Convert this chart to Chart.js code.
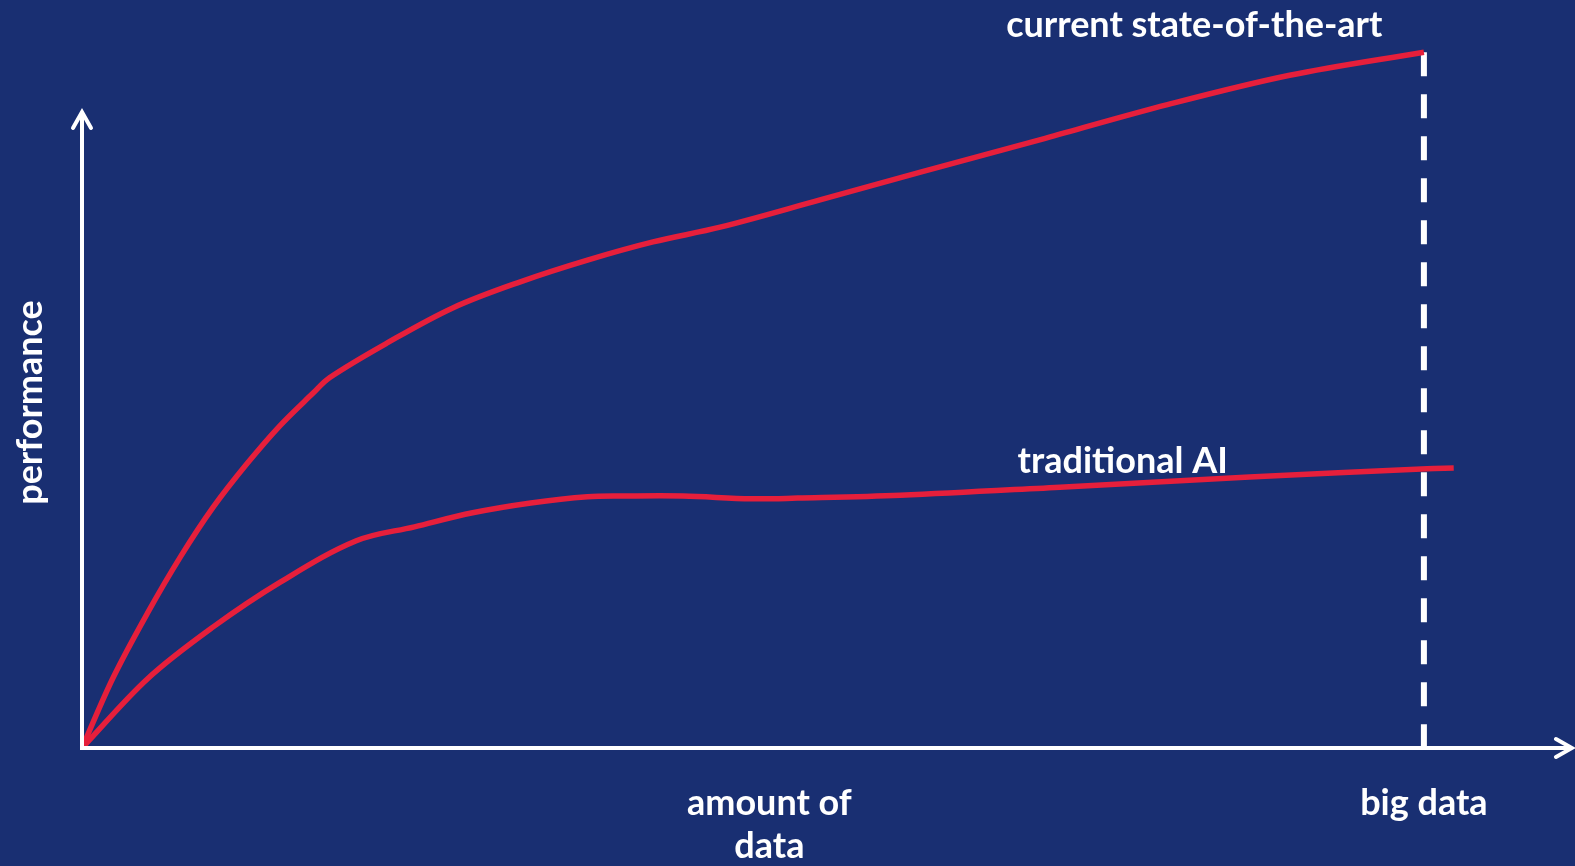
<!DOCTYPE html>
<html>
<head>
<meta charset="utf-8">
<script src="https://cdn.jsdelivr.net/npm/chart.js@4/dist/chart.umd.min.js"></script>
<style>
    html, body { margin: 0; padding: 0; background: #192f72; }
    #wrap { width: 1575px; height: 866px; position: relative; }
</style>
</head>
<body>
<div id="wrap"><canvas id="grafico"></canvas></div>
<script>
// Dados (eixos sem escala: 0..100)
const estadoArteX = [0, 2.1, 4.4, 6.6, 8.8, 11.1, 13.3, 15.5, 16.6, 20.5, 24.9, 29.4, 33.9, 38.3, 42.8, 49.5, 56.3, 64.6, 72.8, 81.0, 90.0];
const estadoArteY = [0, 10.1, 19.3, 27.3, 34.4, 40.7, 46.1, 50.7, 52.9, 57.9, 62.9, 66.6, 69.7, 72.3, 74.4, 78.3, 82.3, 87.1, 91.9, 96.1, 99.4];

const tradicionalX = [0, 4.4, 8.8, 13.3, 18.4, 22.3, 26.2, 30.1, 33.9, 36.4, 40.3, 44.9, 48.0, 54.9, 65.9, 78.3, 90.2, 92.0];
const tradicionalY = [0, 9.9, 17.3, 23.7, 29.6, 31.6, 33.6, 35.0, 35.9, 36.0, 36.0, 35.6, 35.7, 36.1, 37.3, 38.7, 39.9, 40.0];

const nomesSeries = ['current state-of-the-art', 'traditional AI'];
const posNomesSeries = [[74.6, 101.6], [69.8, 39.3]];

// Rótulos do eixo x
const rotulosX = [['amount of', 'data'], ['big data']];
const posRotulosX = [46.1, 90];
const tituloY = 'performance';

const bigDataX = 90;
const bigDataTopo = 99.4;

const vermelho = '#e61f3b';
const branco = '#ffffff';
const fonte = 'bold 36px Lato';

function pares(xs, ys) {
    return xs.map((x, i) => ({ x: x, y: ys[i] }));
}

// Plugin para eixos com setas e textos
const eixosSetas = {
    id: 'eixosSetas',
    afterDatasetsDraw(chart) {
        const ctx = chart.ctx;
        const sx = chart.scales.x;
        const sy = chart.scales.y;
        const x0 = sx.getPixelForValue(0);
        const y0 = sy.getPixelForValue(0);
        const xFim = sx.getPixelForValue(100);
        const yFim = sy.getPixelForValue(91);

        ctx.save();
        ctx.strokeStyle = branco;
        ctx.lineWidth = 4;
        ctx.lineCap = 'butt';

        // eixo x
        ctx.beginPath();
        ctx.moveTo(x0 - 2, y0);
        ctx.lineTo(xFim - 2, y0);
        ctx.stroke();
        // eixo y
        ctx.beginPath();
        ctx.moveTo(x0, y0 + 2);
        ctx.lineTo(x0, yFim + 2);
        ctx.stroke();

        // setas
        ctx.lineCap = 'round';
        ctx.lineJoin = 'miter';
        ctx.beginPath();
        ctx.moveTo(xFim - 17, y0 - 9);
        ctx.lineTo(xFim - 1, y0);
        ctx.lineTo(xFim - 17, y0 + 9);
        ctx.stroke();
        ctx.beginPath();
        ctx.moveTo(x0 - 9, yFim + 17);
        ctx.lineTo(x0, yFim + 1);
        ctx.lineTo(x0 + 9, yFim + 17);
        ctx.stroke();

        // textos
        ctx.fillStyle = branco;
        ctx.font = fonte;
        ctx.textAlign = 'center';
        ctx.textBaseline = 'alphabetic';

        nomesSeries.forEach((nome, i) => {
            ctx.fillText(nome, sx.getPixelForValue(posNomesSeries[i][0]), sy.getPixelForValue(posNomesSeries[i][1]));
        });

        rotulosX.forEach((linhas, i) => {
            const px = sx.getPixelForValue(posRotulosX[i]);
            linhas.forEach((linha, j) => {
                ctx.fillText(linha, px, y0 + 67 + j * 43);
            });
        });

        ctx.translate(x0 - 40, (y0 + yFim) / 2 - 27);
        ctx.rotate(-Math.PI / 2);
        ctx.fillText(tituloY, 0, 0);
        ctx.restore();
    }
};

const ctx = document.getElementById('grafico').getContext('2d');
const grafico = new Chart(ctx, {
    type: 'line',
    data: {
        datasets: [
            {
                label: nomesSeries[0],
                data: pares(estadoArteX, estadoArteY),
                borderColor: vermelho,
                borderWidth: 5.5,
                tension: 0.35,
                pointRadius: 0,
                order: 1
            },
            {
                label: nomesSeries[1],
                data: pares(tradicionalX, tradicionalY),
                borderColor: vermelho,
                borderWidth: 5.5,
                tension: 0.35,
                pointRadius: 0,
                order: 1
            },
            {
                label: 'big data',
                data: [{ x: bigDataX, y: bigDataTopo }, { x: bigDataX, y: 0 }],
                borderColor: branco,
                borderWidth: 6,
                borderDash: [24, 18],
                pointRadius: 0,
                order: 2
            }
        ]
    },
    options: {
        responsive: true,
        maintainAspectRatio: false,
        animation: false,
        layout: {
            padding: { left: 82, right: 2, top: 48, bottom: 118 }
        },
        plugins: {
            legend: { display: false },
            tooltip: { enabled: false }
        },
        scales: {
            x: { type: 'linear', min: 0, max: 100, display: false },
            y: { type: 'linear', min: 0, max: 100, display: false }
        }
    },
    plugins: [eixosSetas]
});
</script>
</body>
</html>
